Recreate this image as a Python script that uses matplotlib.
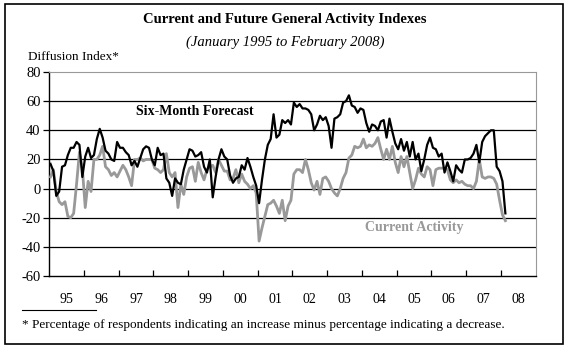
import matplotlib
matplotlib.use("Agg")
from matplotlib import pyplot as plt
from matplotlib.patches import Rectangle
import numpy as np

# monthly values, Jan 1995 .. Feb 2008
forecast = [17, 12, -5, -2, 15, 16, 23, 28, 28, 32, 30, 8,
            22, 28, 21, 23, 34, 41, 35, 26, 24, 20, 19, 32,
            28, 28, 25, 23, 16, 19, 15, 21, 27, 29, 28, 20,
            16, 28, 23, 24, 7, 4, -5, 7, 4, 3, 13, 20,
            27, 26, 22, 23, 25, 15, 11, 20, -6, 8, 20, 27,
            22, 20, 9, 4, 7, 8, 16, 13, 21, 15, 8, 2,
            -10, 6, 20, 30, 34, 51, 35, 37, 47, 45, 47, 44,
            59, 56, 58, 55, 55, 54, 51, 40, 44, 50, 47, 49,
            43, 28, 48, 49, 51, 59, 60, 64, 57, 56, 52, 55,
            54, 45, 39, 44, 43, 40, 46, 47, 35, 48, 39, 31,
            27, 34, 26, 32, 22, 32, 20, 24, 12, 20, 30, 35,
            28, 27, 22, 24, 11, 18, 12, 5, 16, 13, 11, 20,
            20, 21, 24, 30, 18, 32, 36, 38, 40, 40, 15, 12,
            5, -17]

current = [8, 13, -2, -9, -11, -9, -19, -20, -17, 3, 25, 14,
           -13, 5, -2, 20, 20, 23, 29, 15, 13, 9, 11, 8,
           12, 16, 13, 8, 2, 20, 20, 21, 19, 20, 20, 20,
           14, 13, 11, 13, 24, 11, 8, 11, -13, 3, -4, 8,
           14, 15, 5, 18, 11, 6, 13, 15, 16, 11, 20, 16,
           12, 12, 6, 7, 13, 4, 10, 5, 3, 0, 2, -3,
           -36, -27, -19, -11, -10, -8, -12, -17, -8, -22, -12, -8,
           10, 13, 13, 11, 20, 13, 4, -1, 5, -4, 7, 8,
           5, 0, -3, -5, 0, 7, 11, 21, 23, 29, 28, 29,
           34, 28, 30, 29, 31, 35, 27, 20, 27, 20, 29, 18,
           11, 22, 15, 22, 11, 0, 6, 14, 10, 8, 15, 13,
           2, 13, 14, 14, 14, 13, 6, 4, 6, 4, 5, 3,
           2, 2, 0, 5, 20, 8, 7, 8, 8, 7, 3, -8,
           -18, -22]

years = ["95", "96", "97", "98", "99", "00", "01", "02", "03", "04", "05", "06", "07", "08"]

plt.rcParams["font.family"] = "Liberation Serif"
plt.rcParams["axes.unicode_minus"] = False

fig = plt.figure(figsize=(5.7, 3.53), dpi=100)
ax = fig.add_axes([0.086, 0.218, 0.854, 0.578])

months = np.arange(len(forecast)) + 0.5
ax.plot(months, current, color="#999999", lw=2.0, zorder=3)
ax.plot(months, forecast, color="black", lw=1.6, zorder=4)

ax.set_xlim(0, 12 * len(years))
ax.set_ylim(-60, 80)
ax.set_yticks(range(-60, 81, 20))
for v in range(-40, 61, 20):
    ax.axhline(v, color="black", lw=0.9, zorder=1)

ax.set_xticks(np.arange(12, 12 * len(years), 12))
ax.set_xticks(np.arange(6, 12 * len(years), 12), minor=True)
ax.set_xticklabels([])
ax.set_xticklabels(years, minor=True)
ax.tick_params(axis="x", which="major", direction="in", length=4, width=0.9)
ax.tick_params(axis="x", which="minor", length=0, pad=12, labelsize=10)
ax.tick_params(axis="y", direction="out", length=4, width=0.9, labelsize=10.5, pad=2)

ax.spines["top"].set_color("#999999")
ax.spines["right"].set_color("#999999")
ax.spines["left"].set_linewidth(1.0)
ax.spines["bottom"].set_linewidth(1.0)

ax.text(30, 53, "Six-Month Forecast", fontsize=10, fontweight="bold", ha="left", va="center")
ax.text(109, -27, "Current Activity", fontsize=10, fontweight="bold", color="#999999",
        ha="left", va="center")

fig.text(0.5, 0.946, "Current and Future General Activity Indexes", ha="center", va="center",
         fontsize=10.5, fontweight="bold")
fig.text(0.5, 0.881, "(January 1995 to February 2008)", ha="center", va="center",
         fontsize=10.5, style="italic")
fig.text(0.049, 0.838, "Diffusion Index*", ha="left", va="center", fontsize=9.5)
fig.text(0.038, 0.078, "* Percentage of respondents indicating an increase minus percentage indicating a decrease.",
         ha="left", va="center", fontsize=9.5)
fig.add_artist(plt.Line2D([0.039, 0.169], [0.121, 0.121], color="black", lw=0.8))
fig.add_artist(Rectangle((0.008, 0.025), 0.979, 0.963, transform=fig.transFigure,
                         fill=False, edgecolor="black", lw=1.2))

fig.savefig("out.png", dpi=100)
